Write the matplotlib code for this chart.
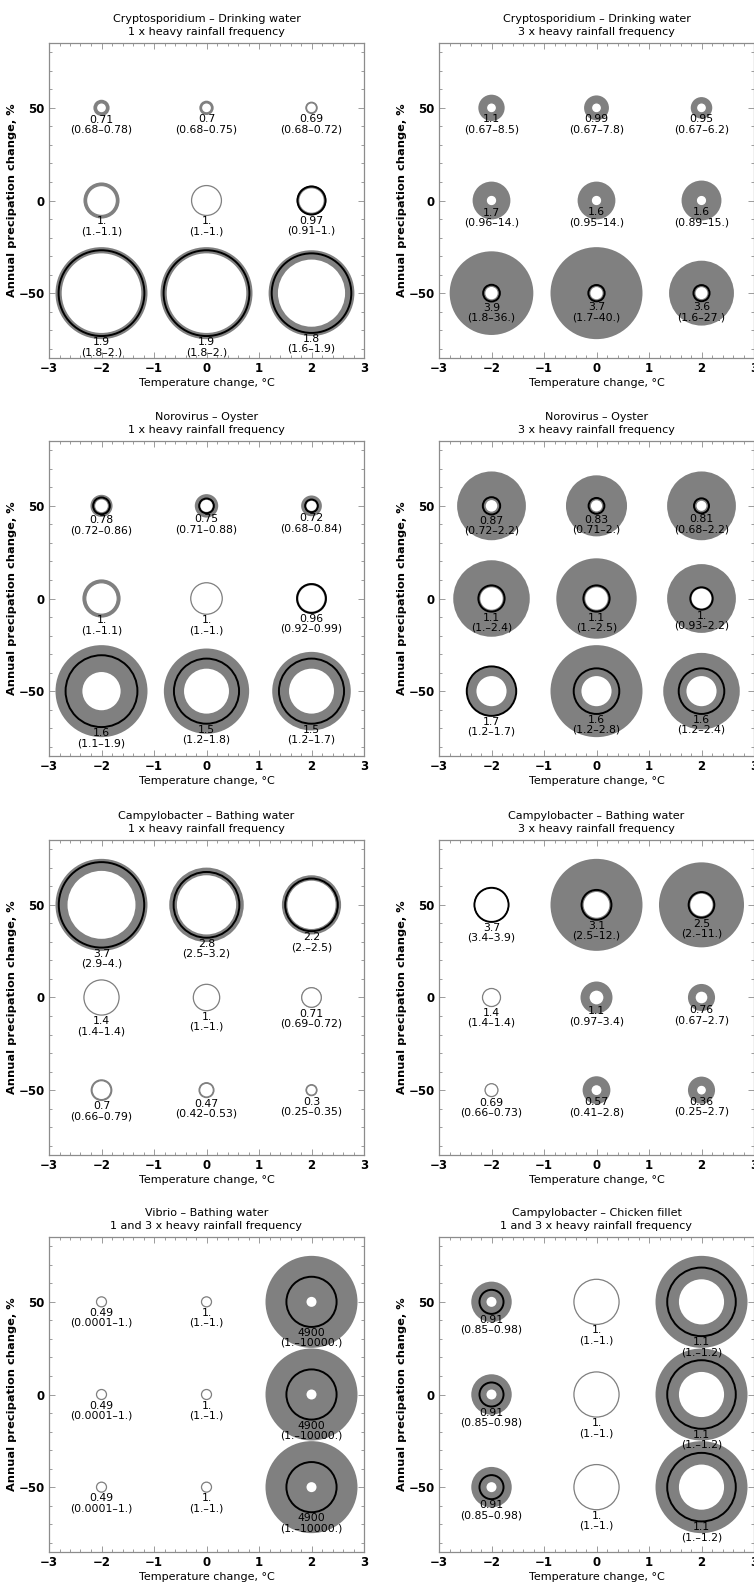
import matplotlib
matplotlib.use("Agg")
import matplotlib.pyplot as plt
from matplotlib.patches import Ellipse
from matplotlib.ticker import MultipleLocator

# grid of scenarios: temperature change (columns) x precipitation change (rows)
temps = [-2, 0, 2]
precips = [50, 0, -50]

titles = [
    "Cryptosporidium – Drinking water\n1 x heavy rainfall frequency",
    "Cryptosporidium – Drinking water\n3 x heavy rainfall frequency",
    "Norovirus – Oyster\n1 x heavy rainfall frequency",
    "Norovirus – Oyster\n3 x heavy rainfall frequency",
    "Campylobacter – Bathing water\n1 x heavy rainfall frequency",
    "Campylobacter – Bathing water\n3 x heavy rainfall frequency",
    "Vibrio – Bathing water\n1 and 3 x heavy rainfall frequency",
    "Campylobacter – Chicken fillet\n1 and 3 x heavy rainfall frequency",
]

# relative risk: median, lower and upper bound; rows = precip 50, 0, -50
crypto1_med = [[0.71, 0.7, 0.69], [1.0, 1.0, 0.97], [1.9, 1.9, 1.8]]
crypto1_lo = [[0.68, 0.68, 0.68], [1.0, 1.0, 0.91], [1.8, 1.8, 1.6]]
crypto1_hi = [[0.78, 0.75, 0.72], [1.1, 1.0, 1.0], [2.0, 2.0, 1.9]]

crypto3_med = [[1.1, 0.99, 0.95], [1.7, 1.6, 1.6], [3.9, 3.7, 3.6]]
crypto3_lo = [[0.67, 0.67, 0.67], [0.96, 0.95, 0.89], [1.8, 1.7, 1.6]]
crypto3_hi = [[8.5, 7.8, 6.2], [14.0, 14.0, 15.0], [36.0, 40.0, 27.0]]

noro1_med = [[0.78, 0.75, 0.72], [1.0, 1.0, 0.96], [1.6, 1.5, 1.5]]
noro1_lo = [[0.72, 0.71, 0.68], [1.0, 1.0, 0.92], [1.1, 1.2, 1.2]]
noro1_hi = [[0.86, 0.88, 0.84], [1.1, 1.0, 0.99], [1.9, 1.8, 1.7]]

noro3_med = [[0.87, 0.83, 0.81], [1.1, 1.1, 1.0], [1.7, 1.6, 1.6]]
noro3_lo = [[0.72, 0.71, 0.68], [1.0, 1.0, 0.93], [1.2, 1.2, 1.2]]
noro3_hi = [[2.2, 2.0, 2.2], [2.4, 2.5, 2.2], [1.7, 2.8, 2.4]]

campy1_med = [[3.7, 2.8, 2.2], [1.4, 1.0, 0.71], [0.7, 0.47, 0.3]]
campy1_lo = [[2.9, 2.5, 2.0], [1.4, 1.0, 0.69], [0.66, 0.42, 0.25]]
campy1_hi = [[4.0, 3.2, 2.5], [1.4, 1.0, 0.72], [0.79, 0.53, 0.35]]

campy3_med = [[3.7, 3.1, 2.5], [1.4, 1.1, 0.76], [0.69, 0.57, 0.36]]
campy3_lo = [[3.4, 2.5, 2.0], [1.4, 0.97, 0.67], [0.66, 0.41, 0.25]]
campy3_hi = [[3.9, 12.0, 11.0], [1.4, 3.4, 2.7], [0.73, 2.8, 2.7]]

vibrio_med = [[0.49, 1.0, 4900]] * 3
vibrio_lo = [[0.0001, 1.0, 1.0]] * 3
vibrio_hi = [[1.0, 1.0, 10000.0]] * 3

chicken_med = [[0.91, 1.0, 1.1]] * 3
chicken_lo = [[0.85, 1.0, 1.0]] * 3
chicken_hi = [[0.98, 1.0, 1.2]] * 3

panels = [
    (crypto1_med, crypto1_lo, crypto1_hi),
    (crypto3_med, crypto3_lo, crypto3_hi),
    (noro1_med, noro1_lo, noro1_hi),
    (noro3_med, noro3_lo, noro3_hi),
    (campy1_med, campy1_lo, campy1_hi),
    (campy3_med, campy3_lo, campy3_hi),
    (vibrio_med, vibrio_lo, vibrio_hi),
    (chicken_med, chicken_lo, chicken_hi),
]


def fmt(v):
    # Mathematica-like number display: whole reals get a trailing dot
    if isinstance(v, int):
        return str(v)
    s = f"{v:g}"
    if "." not in s:
        s += "."
    return s


W, H = 754, 1588
fig = plt.figure(figsize=(W / 100, H / 100), dpi=100)

box = 315  # axes size in pixels
lefts = [49, 439]
tops = [43, 441, 840, 1237]
xr, yr = 6.0, 170.0
px_x = box / xr  # pixels per x unit
px_y = box / yr  # pixels per y unit
rmin, rmax = 5.0, 46.0  # bubble radius range in pixels

gray = "0.5"
frame = "0.55"

for i, (title, (med, lo, hi)) in enumerate(zip(titles, panels)):
    row, col = divmod(i, 2)
    ax = fig.add_axes([lefts[col] / W, 1 - (tops[row] + box) / H, box / W, box / H])
    ax.set_xlim(-3, 3)
    ax.set_ylim(-85, 85)

    vmin = min(min(r) for r in lo)
    vmax = max(max(r) for r in hi)

    def rad(v):
        return rmin + (rmax - rmin) * (v - vmin) / (vmax - vmin)

    for j, y in enumerate(precips):
        for k, x in enumerate(temps):
            r_hi, r_med, r_lo = rad(hi[j][k]), rad(med[j][k]), rad(lo[j][k])
            ax.add_patch(Ellipse((x, y), 2 * r_hi / px_x, 2 * r_hi / px_y,
                                 facecolor=gray, edgecolor="none", zorder=2))
            if r_med - r_lo > 1.0:
                ax.add_patch(Ellipse((x, y), 2 * r_med / px_x, 2 * r_med / px_y,
                                     facecolor="none", edgecolor="black",
                                     lw=1.4, zorder=3))
                ax.add_patch(Ellipse((x, y), 2 * r_lo / px_x, 2 * r_lo / px_y,
                                     facecolor="white", edgecolor="none", zorder=4))
            else:
                ax.add_patch(Ellipse((x, y), 2 * r_lo / px_x, 2 * r_lo / px_y,
                                     facecolor="white", edgecolor=gray,
                                     lw=0.9, zorder=4))
            ax.text(x, y - (r_med + 6) / px_y, fmt(med[j][k]), ha="center",
                    va="center", fontsize=7.8, zorder=6)
            ax.text(x, y - (r_med + 16) / px_y,
                    f"({fmt(lo[j][k])}–{fmt(hi[j][k])})", ha="center",
                    va="center", fontsize=7.8, zorder=6)

    ax.set_xticks([-3, -2, -1, 0, 1, 2, 3])
    ax.set_yticks([-50, 0, 50])
    ax.xaxis.set_minor_locator(MultipleLocator(0.2))
    ax.yaxis.set_minor_locator(MultipleLocator(10))
    ax.tick_params(which="both", direction="in", top=True, right=True,
                   color=frame, width=0.6)
    ax.tick_params(which="major", length=4, labelsize=8.5, pad=3)
    ax.tick_params(which="minor", length=2)
    ax.set_xticklabels(["−3", "−2", "−1", "0", "1", "2", "3"], fontweight="bold")
    ax.set_yticklabels(["−50", "0", "50"], fontweight="bold")
    for s in ax.spines.values():
        s.set_color(frame)
        s.set_linewidth(0.9)

    ax.set_xlabel("Temperature change, °C", fontsize=8, labelpad=2)
    ax.set_ylabel("Annual precipation change, %", fontsize=8.2,
                  fontweight="bold", labelpad=1)
    ax.set_title(title, fontsize=8, pad=6, linespacing=1.35)

fig.savefig("out.png", dpi=100, facecolor="white")
